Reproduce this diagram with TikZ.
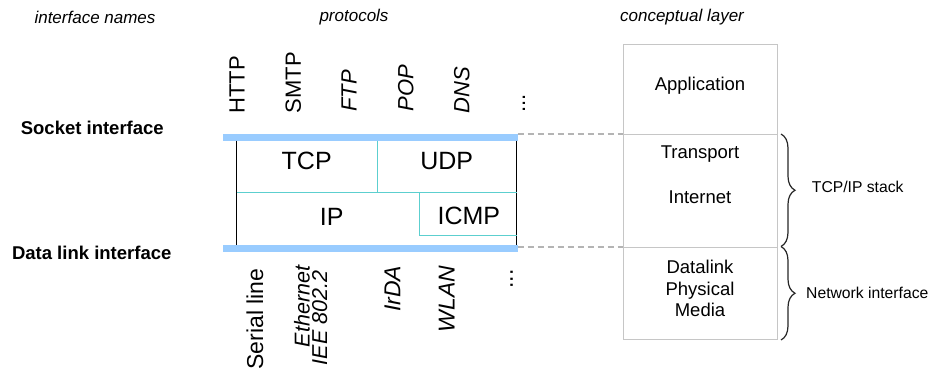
\documentclass[tikz,border=0pt]{standalone}
\usepackage{fontspec}
\setmainfont{Liberation Sans}
\usetikzlibrary{decorations.pathreplacing}
\definecolor{barblue}{HTML}{99CCFF}
\definecolor{tealline}{HTML}{5CCFCF}
\definecolor{boxgray}{HTML}{C6C6C6}
\definecolor{dashgray}{HTML}{B4B4B4}
\begin{document}
\begin{tikzpicture}[x=1pt,y=-1pt,
  head/.style={font=\fontsize{17}{20}\selectfont\itshape, inner sep=0},
  iface/.style={font=\fontsize{18.5}{22}\selectfont\bfseries, inner sep=0},
  proto/.style={font=\fontsize{25}{30}\selectfont, inner sep=0},
  rottop/.style={rotate=90, font=\fontsize{22}{26}\selectfont, inner sep=0},
  rotbot/.style={rotate=90, font=\fontsize{23}{27}\selectfont, inner sep=0},
  rotpair/.style={rotate=90, font=\fontsize{21.5}{25}\selectfont\itshape, inner sep=0, anchor=base},
  layertext/.style={font=\fontsize{18.5}{22}\selectfont, inner sep=0, anchor=base},
  sidetext/.style={font=\fontsize{15.7}{19}\selectfont, inner sep=0, anchor=west},
  layerbox/.style={draw=boxgray, line width=1.3pt, inner sep=0, anchor=north west, minimum width=154.3pt},
  ifbar/.style={barblue, line width=6.7pt},
  tline/.style={tealline, line width=1.2pt},
  bline/.style={black, line width=1.3pt},
  dline/.style={dashgray, line width=1.2pt, dash pattern=on 6pt off 4pt},
  bracestyle/.style={draw=black!85, line width=1.2pt, decorate, decoration={brace, amplitude=14pt}}
]
\useasboundingbox (0,0) rectangle (943,374);

% headings
\node[head] (hif) at (95,17) {interface names};
\node[head] (hpr) at (354,17) {protocols};
\node[head] (hcl) at (682,17) {conceptual layer};

% interface names
\node[iface] (sock) at (92.3,127.5) {Socket interface};
\node[iface] (dlink) at (91.7,253.3) {Data link interface};

% application protocols (rotated)
\node[rottop] (http) at (237,85) {HTTP};
\node[rottop] (smtp) at (293.3,82.5) {SMTP};
\node[rottop] (ftp) at (349,91) {\itshape FTP};
\node[rottop] (pop) at (405.8,88.3) {\itshape POP};
\node[rottop] (dns) at (461.7,90) {\itshape DNS};
\node[rottop] (tdots) at (524,103.3) {...};

% network protocols (rotated)
\node[rotbot] (serial) at (255,319) {Serial line};
\node[rotpair] (eth) at (309.5,306.5) {Ethernet};
\node[rotpair] (iee) at (327,318) {IEE 802.2};
\node[rotbot] (irda) at (392.5,289) {\itshape IrDA};
\node[rotbot] (wlan) at (446.7,299) {\itshape WLAN};
\node[rotbot] (bdots) at (511.7,279) {...};

% interface bars
\coordinate (sockL) at (223,137.3);
\coordinate (sockR) at (517.7,137.3);
\coordinate (dlL) at (223,248.3);
\coordinate (dlR) at (517.7,248.3);
\draw[ifbar] (sockL) -- (sockR);
\draw[ifbar] (dlL) -- (dlR);

% black sides of the stack
\coordinate (lt) at (236.7,140.7);
\coordinate (lb) at (236.7,245);
\coordinate (rt) at (516.7,140.7);
\coordinate (rb) at (516.7,245);
\draw[bline] (lt) -- (lb);
\draw[bline] (rt) -- (rb);

% teal divisions
\coordinate (tu) at (377.3,140.7);
\coordinate (tm) at (377.3,192.7);
\coordinate (ml) at (236.7,192.7);
\coordinate (mr) at (516.7,192.7);
\coordinate (ict) at (419.3,192.7);
\coordinate (icb) at (419.3,235.3);
\coordinate (icr) at (516.7,235.3);
\draw[tline] (tu) -- (tm);
\draw[tline] (ml) -- (mr);
\draw[tline] (ict) -- (icb) -- (icr);

% protocol names
\node[proto] (tcp) at (306.7,160.7) {TCP};
\node[proto] (udp) at (446.7,160.7) {UDP};
\node[proto] (ip) at (331.7,216.5) {IP};
\node[proto] (icmp) at (468.8,216) {ICMP};

% conceptual layers
\node[layerbox, minimum height=90pt] (appbox) at (622.7,44) {};
\node[layerbox, minimum height=113pt] (tcpbox) at (622.7,134) {};
\node[layerbox, minimum height=92pt] (netbox) at (622.7,247) {};

\node[layertext] (app) at (700,91) {Application};
\node[layertext] (trans) at (700,158.3) {Transport};
\node[layertext] (inet) at (700,203.3) {Internet};
\node[layertext] (dlk) at (700,273.3) {Datalink};
\node[layertext] (phy) at (700,295) {Physical};
\node[layertext] (med) at (700,316.7) {Media};

% dashed connections
\coordinate (sockD) at (517.7,134);
\coordinate (dlD) at (517.7,247);
\draw[dline] (sockD) -- (tcpbox.north west);
\draw[dline] (dlD) -- (netbox.north west);

% braces
\coordinate (b1t) at (781,134);
\coordinate (b1b) at (781,246.5);
\coordinate (b2t) at (781,246.5);
\coordinate (b2b) at (781,340);
\draw[bracestyle] (b1t) -- (b1b);
\draw[bracestyle] (b2t) -- (b2b);
\node[sidetext] (stack) at (811.7,186.7) {TCP/IP stack};
\node[sidetext] (netif) at (806,293.3) {Network interface};
\end{tikzpicture}
\end{document}
